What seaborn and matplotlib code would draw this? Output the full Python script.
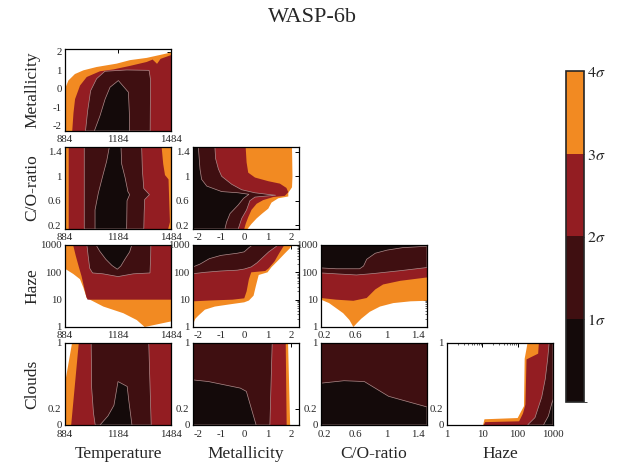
import matplotlib
matplotlib.use("Agg")
import matplotlib.pyplot as plt
import seaborn as sns
from matplotlib.colors import ListedColormap, BoundaryNorm
from matplotlib.cm import ScalarMappable
from matplotlib.ticker import FixedLocator, FixedFormatter, LogLocator, NullFormatter

sns.set_style("white")
plt.rcParams['font.family'] = ['Liberation Serif', 'DejaVu Serif']
plt.rcParams['mathtext.fontset'] = 'stix'
plt.rcParams['axes.unicode_minus'] = False

# ---------------- data ----------------
title = "WASP-6b"
x_params = ["Temperature", "Metallicity", "C/O-ratio", "Haze"]
y_params = ["Metallicity", "C/O-ratio", "Haze", "Clouds"]
sigma_levels = [1, 2, 3, 4]
sigma_labels = [r"$1\sigma$", r"$2\sigma$", r"$3\sigma$", r"$4\sigma$"]
sigma_colors = ["#140a0a", "#3f0f11", "#931d22", "#f28a22"]

temp_range = (884, 1484)
temp_ticks = [884, 1184, 1484]
met_x_range = (-2.2, 2.35)
met_y_range = (-2.27, 2.15)
met_ticks = [-2, -1, 0, 1, 2]
co_x_range = (0.157, 1.51)
co_y_range = (0.137, 1.48)
co_ticks = [0.2, 0.6, 1, 1.4]
co_ticklabels = ["0.2", "0.6", "1", "1.4"]
haze_range = (1, 1000)
haze_ticks = [1, 10, 100, 1000]
cloud_range = (0, 1)
cloud_ticks = [0, 0.2, 1]

# Confidence regions (<= n sigma), boundaries.
# Metallicity vs Temperature
met_temp_4s = [(884, -2.27), (884, 0.0), (903, 0.45), (940, 0.8), (988, 1.0), (1063, 1.18), (1176, 1.36),
               (1252, 1.55), (1346, 1.67), (1484, 1.96), (1484, -2.27)]
met_temp_3s = [(925, -2.27), (932, -1.3), (941, -0.55), (969, 0.18), (1007, 0.64), (1082, 0.95), (1158, 1.05),
               (1252, 1.24), (1346, 1.45), (1380, 1.58), (1405, 1.35), (1425, 1.62), (1484, 1.82), (1484, -2.27)]
met_temp_2s = [(1000, -2.27), (1012, -1.2), (1029, -0.1), (1063, 0.55), (1110, 0.95), (1233, 1.02),
               (1360, 1.0), (1368, 0.5), (1366, -2.27)]
met_temp_1s = [(1050, -2.27), (1082, -1.45), (1111, -0.55), (1139, 0.09), (1186, 0.45), (1243, -0.18),
               (1248, -1.27), (1250, -2.27)]
# C/O vs Temperature
co_temp_4s = [(884, 0.137), (884, 1.48), (1484, 1.48), (1484, 0.137)]
co_temp_3s = [(905, 0.137), (905, 1.48), (1431, 1.48), (1440, 1.2), (1450, 1.02), (1470, 0.95), (1475, 0.5),
              (1478, 0.25), (1468, 0.137)]
co_temp_2s = [(993, 0.137), (993, 1.48), (1318, 1.48), (1322, 1.1), (1330, 0.8), (1362, 0.7), (1335, 0.62),
              (1332, 0.4), (1330, 0.137)]
co_temp_1s = [(1054, 0.137), (1054, 0.45), (1073, 0.73), (1097, 1.0), (1120, 1.25), (1135, 1.48), (1201, 1.48),
              (1205, 1.2), (1224, 0.98), (1240, 0.75), (1250, 0.7), (1235, 0.6), (1233, 0.137)]
# C/O vs Metallicity
co_met_4s = [(-2.2, 0.137), (-2.2, 1.48), (2.05, 1.48), (2.07, 1.0), (2.05, 0.82), (1.89, 0.73), (1.89, 0.67),
             (1.46, 0.64), (1.17, 0.57), (1.03, 0.47), (0.77, 0.39), (0.53, 0.31), (0.31, 0.22), (0.14, 0.137)]
co_met_3s = [(-2.2, 0.137), (-2.2, 1.48), (0.06, 1.48), (0.1, 1.23), (0.17, 1.06), (0.46, 0.98), (1.03, 0.92),
             (1.53, 0.88), (1.81, 0.81), (1.89, 0.74), (1.74, 0.68), (1.24, 0.66), (0.81, 0.61), (0.53, 0.55),
             (0.31, 0.45), (0.17, 0.33), (0.06, 0.22), (0.0, 0.137)]
co_met_2s = [(-2.2, 0.137), (-2.2, 1.48), (-1.26, 1.48), (-1.23, 1.29), (-1.11, 1.12), (-0.97, 1.0),
             (-0.54, 0.87), (-0.11, 0.78), (0.46, 0.73), (1.0, 0.705), (1.35, 0.69), (0.9, 0.675), (0.46, 0.66),
             (0.24, 0.6), (0.1, 0.45), (-0.11, 0.31), (-0.26, 0.137)]
co_met_1s = [(-2.2, 0.137), (-2.2, 1.48), (-1.97, 1.48), (-1.9, 1.12), (-1.83, 0.95), (-1.61, 0.84),
             (-0.97, 0.75), (-0.26, 0.73), (0.2, 0.705), (-0.03, 0.64), (-0.26, 0.53), (-0.61, 0.39),
             (-0.76, 0.25), (-0.83, 0.137)]
# Haze vs Temperature
haze_temp_4s = [(884, 1000), (884, 135), (931, 87), (969, 56), (988, 27.5), (1007, 11.5), (1101, 5.6),
                (1214, 3.2), (1290, 1.8), (1335, 1), (1484, 1.6), (1484, 1000)]
haze_temp_3s = [(930, 1000), (945, 400), (962, 160), (978, 71), (992, 28), (1005, 12.6), (1012, 10),
                (1484, 10), (1484, 1000)]
haze_temp_2s = [(1008, 1000), (1015, 400), (1024, 140), (1040, 95), (1100, 88), (1184, 70), (1270, 88),
                (1365, 95), (1369, 400), (1370, 1000)]
haze_temp_1s = [(1060, 1000), (1080, 600), (1115, 300), (1150, 178), (1180, 130), (1200, 170), (1225, 316),
                (1250, 560), (1262, 1000)]
# Haze vs Metallicity
haze_met_4s = [(-2.2, 1000), (-2.2, 1.25), (-2.1, 2.0), (-1.97, 2.6), (-1.69, 4.3), (-1.26, 5.6), (-0.54, 6.9),
               (0.0, 8.0), (0.2, 9.3), (0.4, 14), (0.5, 32), (0.62, 80), (1.0, 100), (1.17, 155), (1.46, 275),
               (1.74, 490), (1.96, 760), (2.06, 1000)]
haze_met_3s = [(-2.2, 1000), (-2.2, 8.7), (-1.5, 9.3), (-0.5, 10), (0.0, 11.2), (0.1, 20), (0.2, 56),
               (0.3, 100), (0.9, 112), (1.05, 141), (1.3, 251), (1.5, 500), (1.72, 1000)]
haze_met_2s = [(-2.2, 1000), (-2.2, 89), (-1.7, 100), (-1.0, 112), (-0.3, 120), (0.0, 132), (0.3, 158),
               (0.55, 224), (0.8, 355), (1.05, 560), (1.3, 800), (1.45, 1000)]
haze_met_1s = [(-2.2, 1000), (-2.2, 158), (-1.9, 200), (-1.5, 316), (-1.0, 417), (-0.3, 500), (0.0, 562),
               (0.2, 800), (0.35, 1000)]
# Haze vs C/O
haze_co_4s = [(0.157, 1000), (0.157, 10), (0.26, 7.5), (0.35, 4.9), (0.44, 3.2), (0.52, 1.8), (0.57, 1),
              (0.61, 1.33), (0.67, 2.0), (0.78, 3.6), (0.91, 5.6), (1.08, 7.5), (1.3, 8.7), (1.51, 9.1),
              (1.51, 1000)]
haze_co_3s = [(0.157, 1000), (0.157, 11.5), (0.35, 10), (0.57, 9.1), (0.74, 11.5), (0.85, 23.7), (0.95, 36),
              (1.17, 49), (1.51, 65), (1.51, 1000)]
haze_co_2s = [(0.157, 1000), (0.157, 95), (0.35, 88), (0.61, 80), (0.82, 90), (1.17, 115), (1.51, 150),
              (1.51, 1000)]
haze_co_1s = [(0.157, 1000), (0.157, 145), (0.35, 135), (0.65, 135), (0.7, 170), (0.74, 300), (0.85, 500),
              (1.0, 650), (1.2, 800), (1.51, 900), (1.51, 1000)]
# Clouds vs Temperature
cloud_temp_4s = [(884, 0), (884, 0.51), (924, 1), (1484, 1), (1484, 0)]
cloud_temp_3s = [(919, 0), (962, 1), (1484, 1), (1484, 0)]
cloud_temp_2s = [(1055, 0), (1045, 0.15), (1035, 0.45), (1032, 1), (1358, 1), (1372, 0)]
cloud_temp_1s = [(1082, 0), (1127, 0.11), (1161, 0.24), (1184, 0.53), (1236, 0.47), (1245, 0.3), (1263, 0)]
# Clouds vs Metallicity
cloud_met_4s = [(-2.2, 0), (-2.2, 1), (1.88, 1), (1.97, 0)]
cloud_met_3s = [(-2.2, 0), (-2.2, 1), (1.78, 1), (1.82, 0)]
cloud_met_2s = [(-2.2, 0), (-2.2, 1), (1.2, 1), (1.1, 0)]
cloud_met_1s = [(-2.2, 0), (-2.2, 0.55), (-1.54, 0.53), (-0.17, 0.45), (0.09, 0.41), (0.51, 0)]
# Clouds vs C/O
cloud_co_2s = [(0.157, 0), (0.157, 1), (1.51, 1), (1.51, 0)]
cloud_co_1s = [(0.157, 0), (0.157, 0.51), (0.45, 0.54), (0.71, 0.53), (1.02, 0.35), (1.51, 0.22), (1.51, 0)]
# Clouds vs Haze
cloud_haze_4s = [(10.5, 0), (11.5, 0.07), (100, 0.085), (120, 0.15), (151, 0.23), (158, 0.81), (178, 0.93),
                 (190, 1), (1000, 1), (1000, 0)]
cloud_haze_3s = [(11, 0), (12, 0.035), (110, 0.045), (141, 0.14), (166, 0.25), (178, 0.8), (380, 0.87),
                 (398, 1), (1000, 1), (1000, 0)]
cloud_haze_2s = [(190, 0), (309, 0.09), (479, 0.34), (603, 0.56), (708, 0.81), (776, 1), (1000, 1), (1000, 0)]
cloud_haze_1s = [(537, 0), (741, 0.11), (933, 0.27), (1000, 0.31), (1000, 0)]

panels = {
    (0, 0): [met_temp_1s, met_temp_2s, met_temp_3s, met_temp_4s],
    (1, 0): [co_temp_1s, co_temp_2s, co_temp_3s, co_temp_4s],
    (1, 1): [co_met_1s, co_met_2s, co_met_3s, co_met_4s],
    (2, 0): [haze_temp_1s, haze_temp_2s, haze_temp_3s, haze_temp_4s],
    (2, 1): [haze_met_1s, haze_met_2s, haze_met_3s, haze_met_4s],
    (2, 2): [haze_co_1s, haze_co_2s, haze_co_3s, haze_co_4s],
    (3, 0): [cloud_temp_1s, cloud_temp_2s, cloud_temp_3s, cloud_temp_4s],
    (3, 1): [cloud_met_1s, cloud_met_2s, cloud_met_3s, cloud_met_4s],
    (3, 2): [cloud_co_1s, cloud_co_2s, None, None],
    (3, 3): [cloud_haze_1s, cloud_haze_2s, cloud_haze_3s, cloud_haze_4s],
}

# ---------------- layout ----------------
W, H = 624, 468
col_left = [65, 193, 321, 447]
row_top = [49, 147, 245, 343]
pw, ph = 106, 82

fig = plt.figure(figsize=(W / 100, H / 100), dpi=100)
fig.text(0.5, 1 - 18 / H, title, ha="center", va="center", fontsize=16)

x_axis = {
    0: dict(lim=temp_range, ticks=temp_ticks, labels=[str(t) for t in temp_ticks], log=False),
    1: dict(lim=met_x_range, ticks=met_ticks, labels=[str(t) for t in met_ticks], log=False),
    2: dict(lim=co_x_range, ticks=co_ticks, labels=co_ticklabels, log=False),
    3: dict(lim=haze_range, ticks=haze_ticks, labels=[str(t) for t in haze_ticks], log=True),
}
y_axis = {
    0: dict(lim=met_y_range, ticks=met_ticks, labels=[str(t) for t in met_ticks], log=False),
    1: dict(lim=co_y_range, ticks=co_ticks, labels=co_ticklabels, log=False),
    2: dict(lim=haze_range, ticks=haze_ticks, labels=[str(t) for t in haze_ticks], log=True),
    3: dict(lim=cloud_range, ticks=cloud_ticks, labels=["0", "0.2", "1"], log=False),
}

edge_col = "#b08c8c"
for (r, c), regs in panels.items():
    ax = fig.add_axes([col_left[c] / W, 1 - (row_top[r] + ph) / H, pw / W, ph / H])
    xa, ya = x_axis[c], y_axis[r]
    if xa["log"]:
        ax.set_xscale("log")
    if ya["log"]:
        ax.set_yscale("log")
    for lvl in [4, 3, 2, 1]:
        poly = regs[lvl - 1]
        if poly is None:
            continue
        xs, ys = zip(*poly)
        if lvl <= 2:
            ax.fill(xs, ys, facecolor=sigma_colors[lvl - 1], edgecolor=edge_col, linewidth=0.5)
        else:
            ax.fill(xs, ys, facecolor=sigma_colors[lvl - 1], edgecolor="none", linewidth=0)
    ax.set_xlim(*xa["lim"])
    ax.set_ylim(*ya["lim"])
    ax.xaxis.set_major_locator(FixedLocator(xa["ticks"]))
    ax.xaxis.set_major_formatter(FixedFormatter(xa["labels"]))
    ax.yaxis.set_major_locator(FixedLocator(ya["ticks"]))
    ax.yaxis.set_major_formatter(FixedFormatter(ya["labels"]))
    if xa["log"]:
        ax.xaxis.set_minor_locator(LogLocator(base=10, subs=range(2, 10)))
        ax.xaxis.set_minor_formatter(NullFormatter())
    if ya["log"]:
        ax.yaxis.set_minor_locator(LogLocator(base=10, subs=range(2, 10)))
        ax.yaxis.set_minor_formatter(NullFormatter())
    ax.tick_params(which="major", direction="in", length=3, width=0.7, top=True, right=True,
                   labelsize=7.8, color="black")
    ax.tick_params(axis="x", which="major", pad=3 if r < 3 else 3.5)
    ax.tick_params(axis="y", which="major", pad=2.5)
    ax.tick_params(which="minor", direction="in", length=1.6, width=0.5, top=True, right=True)
    for s in ax.spines.values():
        s.set_linewidth(0.9)
        s.set_color("black")
    ax.set_facecolor("white")
    if c == 0:
        ax.set_ylabel(y_params[r], fontsize=12.5)
        ax.yaxis.set_label_coords(-0.235, 0.5)
    if r == 3:
        ax.set_xlabel(x_params[c], fontsize=12.5)
        ax.xaxis.set_label_coords(0.5, -0.25)

cax = fig.add_axes([566 / W, 1 - 402 / H, 18 / W, 331 / H])
cmap = ListedColormap(sigma_colors)
norm = BoundaryNorm([0] + sigma_levels, cmap.N)
cb = fig.colorbar(ScalarMappable(norm=norm, cmap=cmap), cax=cax, ticks=sigma_levels)
cb.ax.set_yticklabels(sigma_labels)
cb.ax.tick_params(direction="in", length=2, width=0.6, labelsize=11.5, pad=2)
cb.outline.set_linewidth(1.2)

fig.savefig("out.png", dpi=100)
